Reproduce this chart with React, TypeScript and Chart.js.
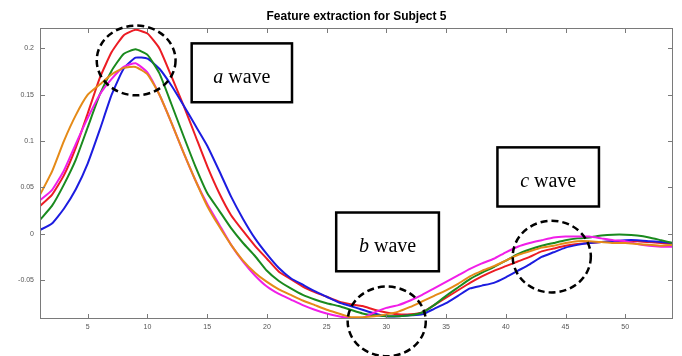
import React, { useEffect, useRef } from "react";
import { Chart, registerables } from "chart.js";

Chart.register(...registerables);

// sample index (x) 1..54
const SAMPLES: number[] = Array.from({ length: 54 }, (_, i) => i + 1);

const X_TICKS = [5, 10, 15, 20, 25, 30, 35, 40, 45, 50];
const Y_TICKS = [-0.05, 0, 0.05, 0.1, 0.15, 0.2];

const RED = [0.030, 0.042, 0.063, 0.093, 0.130, 0.168, 0.196, 0.214, 0.220, 0.216, 0.200, 0.170, 0.139, 0.106, 0.073, 0.044, 0.020, 0.003, -0.013, -0.027, -0.041, -0.049, -0.057, -0.063, -0.068, -0.073, -0.076, -0.078, -0.082, -0.085, -0.087, -0.087, -0.085, -0.077, -0.069, -0.061, -0.053, -0.046, -0.040, -0.035, -0.030, -0.025, -0.019, -0.016, -0.013, -0.011, -0.010, -0.009, -0.008, -0.008, -0.008, -0.009, -0.010, -0.011];
const GREEN = [0.015, 0.030, 0.053, 0.080, 0.115, 0.150, 0.176, 0.194, 0.199, 0.193, 0.173, 0.140, 0.106, 0.073, 0.044, 0.025, 0.006, -0.010, -0.024, -0.040, -0.051, -0.059, -0.066, -0.071, -0.075, -0.078, -0.082, -0.086, -0.088, -0.089, -0.089, -0.088, -0.085, -0.077, -0.067, -0.058, -0.049, -0.042, -0.036, -0.029, -0.022, -0.017, -0.013, -0.010, -0.007, -0.005, -0.004, -0.002, -0.001, -0.001, -0.002, -0.004, -0.007, -0.010];
const BLUE = [0.004, 0.011, 0.027, 0.048, 0.076, 0.112, 0.150, 0.178, 0.190, 0.189, 0.178, 0.160, 0.139, 0.117, 0.095, 0.068, 0.040, 0.016, -0.005, -0.022, -0.037, -0.048, -0.055, -0.062, -0.068, -0.074, -0.078, -0.082, -0.086, -0.089, -0.089, -0.088, -0.087, -0.081, -0.075, -0.067, -0.059, -0.056, -0.053, -0.047, -0.040, -0.033, -0.025, -0.020, -0.015, -0.012, -0.010, -0.009, -0.008, -0.007, -0.007, -0.008, -0.009, -0.010];
const MAGENTA = [0.036, 0.047, 0.068, 0.097, 0.125, 0.150, 0.167, 0.180, 0.184, 0.174, 0.150, 0.120, 0.088, 0.058, 0.032, 0.010, -0.012, -0.030, -0.045, -0.057, -0.065, -0.071, -0.077, -0.082, -0.086, -0.089, -0.091, -0.091, -0.085, -0.080, -0.077, -0.072, -0.066, -0.059, -0.052, -0.045, -0.038, -0.032, -0.027, -0.020, -0.014, -0.010, -0.007, -0.004, -0.003, -0.003, -0.003, -0.005, -0.007, -0.008, -0.011, -0.013, -0.014, -0.014];
const ORANGE = [0.042, 0.067, 0.100, 0.128, 0.150, 0.161, 0.172, 0.179, 0.180, 0.172, 0.150, 0.120, 0.088, 0.058, 0.030, 0.008, -0.012, -0.029, -0.042, -0.052, -0.060, -0.066, -0.072, -0.077, -0.082, -0.086, -0.090, -0.090, -0.089, -0.087, -0.084, -0.079, -0.073, -0.067, -0.061, -0.054, -0.046, -0.040, -0.035, -0.029, -0.023, -0.019, -0.015, -0.013, -0.010, -0.008, -0.008, -0.009, -0.010, -0.010, -0.011, -0.012, -0.013, -0.012];

const TITLE = "Feature extraction for Subject 5";

// annotation boxes in data coordinates
const BOX_X0 = [13.7, 25.8, 39.3];
const BOX_X1 = [22.1, 34.4, 47.8];
const BOX_YTOP = [0.2054, 0.0229, 0.0932];
const BOX_YBOT = [0.1419, -0.0405, 0.0294];
const BOX_LETTER = ["a", "b", "c"];
const BOX_WORD = " wave";

// dashed ellipses in data coordinates
const ELL_X = [9.05, 30.03, 43.85];
const ELL_Y = [0.187, -0.0946, -0.0247];
const ELL_RX = [3.3, 3.27, 3.27];
const ELL_RY = [0.0376, 0.0376, 0.0387];

const toPts = (arr: number[]) => arr.map((v, i) => ({ x: SAMPLES[i], y: v }));

const decor = {
  id: "decor",
  afterDraw(chart: any) {
    const { ctx, chartArea: ca } = chart;
    const xs = chart.scales.x;
    const ys = chart.scales.y;
    ctx.save();
    // frame
    ctx.strokeStyle = "#7a7a7a";
    ctx.lineWidth = 1;
    ctx.strokeRect(Math.round(ca.left) + 0.5, Math.round(ca.top) + 0.5, Math.round(ca.width) - 1, Math.round(ca.height) - 1);
    // inward ticks
    ctx.beginPath();
    X_TICKS.forEach((v) => {
      const px = Math.round(xs.getPixelForValue(v)) + 0.5;
      ctx.moveTo(px, ca.bottom);
      ctx.lineTo(px, ca.bottom - 5);
      ctx.moveTo(px, ca.top);
      ctx.lineTo(px, ca.top + 5);
    });
    Y_TICKS.forEach((v) => {
      const py = Math.round(ys.getPixelForValue(v)) + 0.5;
      ctx.moveTo(ca.left, py);
      ctx.lineTo(ca.left + 5, py);
      ctx.moveTo(ca.right, py);
      ctx.lineTo(ca.right - 5, py);
    });
    ctx.stroke();
    // title
    ctx.fillStyle = "#000";
    ctx.font = "bold 12px 'Liberation Sans', Arial, sans-serif";
    ctx.textAlign = "center";
    ctx.textBaseline = "middle";
    ctx.fillText(TITLE, (ca.left + ca.right) / 2, 17);
    // boxes
    for (let i = 0; i < BOX_X0.length; i++) {
      const x0 = xs.getPixelForValue(BOX_X0[i]);
      const x1 = xs.getPixelForValue(BOX_X1[i]);
      const y0 = ys.getPixelForValue(BOX_YTOP[i]);
      const y1 = ys.getPixelForValue(BOX_YBOT[i]);
      ctx.fillStyle = "#fff";
      ctx.fillRect(x0, y0, x1 - x0, y1 - y0);
      ctx.strokeStyle = "#000";
      ctx.lineWidth = 2.5;
      ctx.strokeRect(x0, y0, x1 - x0, y1 - y0);
      const fontI = "italic 20px 'Liberation Serif', 'Times New Roman', serif";
      const fontR = "20px 'Liberation Serif', 'Times New Roman', serif";
      ctx.font = fontI;
      const w1 = ctx.measureText(BOX_LETTER[i]).width;
      ctx.font = fontR;
      const w2 = ctx.measureText(BOX_WORD).width;
      const cx = (x0 + x1) / 2;
      const cy = (y0 + y1) / 2 + 5;
      const start = cx - (w1 + w2) / 2;
      ctx.fillStyle = "#000";
      ctx.textAlign = "left";
      ctx.textBaseline = "middle";
      ctx.font = fontI;
      ctx.fillText(BOX_LETTER[i], start, cy);
      ctx.font = fontR;
      ctx.fillText(BOX_WORD, start + w1, cy);
    }
    // dashed ellipses
    ctx.setLineDash([7, 4]);
    ctx.lineWidth = 2.5;
    ctx.strokeStyle = "#000";
    for (let i = 0; i < ELL_X.length; i++) {
      const cx = xs.getPixelForValue(ELL_X[i]);
      const cy = ys.getPixelForValue(ELL_Y[i]);
      const rx = xs.getPixelForValue(ELL_X[i] + ELL_RX[i]) - cx;
      const ry = cy - ys.getPixelForValue(ELL_Y[i] + ELL_RY[i]);
      ctx.beginPath();
      ctx.ellipse(cx, cy, rx, ry, 0, 0, Math.PI * 2);
      ctx.stroke();
    }
    ctx.restore();
  },
};

export default function App() {
  const ref = useRef<HTMLCanvasElement | null>(null);
  useEffect(() => {
    document.body.style.margin = "0";
    const canvas = ref.current;
    if (!canvas) return;
    const mk = (label: string, data: number[], color: string) => ({
      label,
      data: toPts(data),
      borderColor: color,
      backgroundColor: color,
      borderWidth: 2,
      pointRadius: 0,
      tension: 0.15,
      fill: false,
    });
    const chart = new Chart(canvas, {
      type: "line",
      data: {
        datasets: [
          mk("orange", ORANGE, "#e58a17"),
          mk("magenta", MAGENTA, "#f01ee8"),
          mk("green", GREEN, "#1a8a1e"),
          mk("blue", BLUE, "#1c1ce0"),
          mk("red", RED, "#ec1c24"),
        ],
      },
      options: {
        animation: false,
        responsive: false,
        maintainAspectRatio: false,
        layout: { padding: { top: 28, right: 9, left: 0, bottom: 0 } },
        plugins: { legend: { display: false }, title: { display: false }, tooltip: { enabled: false } },
        scales: {
          x: {
            type: "linear",
            min: 1,
            max: 54,
            grid: { display: false, drawTicks: false },
            border: { display: false },
            afterBuildTicks: (s: any) => {
              s.ticks = X_TICKS.map((v) => ({ value: v }));
            },
            afterFit: (s: any) => {
              s.height = 37;
            },
            ticks: {
              padding: 4,
              color: "#555",
              font: { size: 7, family: "'Liberation Sans', Arial, sans-serif" },
              maxRotation: 0,
              autoSkip: false,
              callback: (v: any) => String(v),
            },
          },
          y: {
            type: "linear",
            min: -0.092,
            max: 0.222,
            grid: { display: false, drawTicks: false },
            border: { display: false },
            afterBuildTicks: (s: any) => {
              s.ticks = Y_TICKS.map((v) => ({ value: v }));
            },
            afterFit: (s: any) => {
              s.width = 40;
            },
            ticks: {
              padding: 6,
              color: "#555",
              font: { size: 7, family: "'Liberation Sans', Arial, sans-serif" },
              autoSkip: false,
              callback: (v: any) => String(Math.round(Number(v) * 1000) / 1000),
            },
          },
        },
      },
      plugins: [decor],
    });
    return () => chart.destroy();
  }, []);
  return (
    <div style={{ width: 682, height: 356 }}>
      <canvas ref={ref} width={682} height={356} style={{ display: "block" }} />
    </div>
  );
}
